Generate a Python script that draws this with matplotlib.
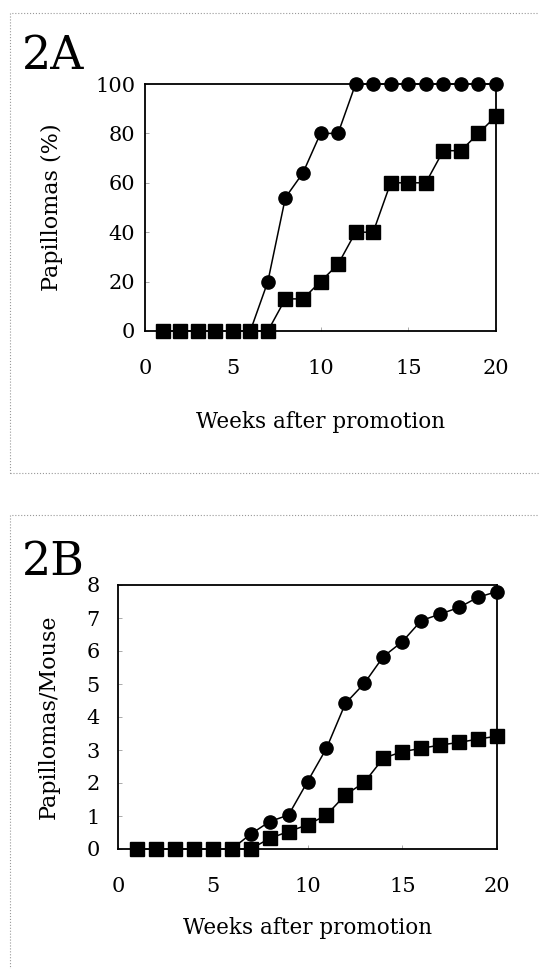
import matplotlib
matplotlib.use("Agg")
import matplotlib.pyplot as plt
from matplotlib.patches import Rectangle

weeks = list(range(1, 21))

# 2A: papillomas (%)
pct_circle = [0, 0, 0, 0, 0, 0, 20, 54, 64, 80, 80, 100, 100, 100, 100, 100, 100, 100, 100, 100]
pct_square = [0, 0, 0, 0, 0, 0, 0, 13, 13, 20, 27, 40, 40, 60, 60, 60, 73, 73, 80, 87]

# 2B: papillomas per mouse
pm_circle = [0, 0, 0, 0, 0, 0, 0.45, 0.83, 1.03, 2.04, 3.05, 4.41, 5.02, 5.83, 6.28, 6.92, 7.12, 7.32, 7.63, 7.8]
pm_square = [0, 0, 0, 0, 0, 0, 0, 0.32, 0.53, 0.73, 1.03, 1.64, 2.02, 2.75, 2.95, 3.05, 3.15, 3.23, 3.33, 3.42]

plt.rcParams['font.family'] = ['DejaVu Serif']

W, H = 539, 969
fig = plt.figure(figsize=(W / 100, H / 100), dpi=100)

# dotted panel frames
for (x0, y0, x1, y1) in [(10, 13, 545, 473), (10, 515, 545, 975)]:
    fig.patches.append(Rectangle((x0 / W, 1 - y1 / H), (x1 - x0) / W, (y1 - y0) / H,
                                 transform=fig.transFigure, fill=False,
                                 edgecolor='#999999', linewidth=0.8, linestyle=':'))


def draw(ax, circ, sq, ymax, yticks, ylabel, ypad, xlpad, ylpad):
    # circles first so the squares sit on top
    ax.plot(weeks[5:], circ[5:], color='black', lw=1.1, zorder=2, clip_on=False)
    ax.plot(weeks[6:], circ[6:], 'o', color='black', ms=9.5, zorder=3, clip_on=False)
    ax.plot(weeks, sq, color='black', lw=1.1, marker='s', ms=10.5, zorder=4, clip_on=False)
    ax.set_xlim(0, 20)
    ax.set_ylim(0, ymax)
    ax.set_xticks([0, 5, 10, 15, 20])
    ax.set_yticks(yticks)
    ax.tick_params(axis='x', direction='in', length=3, width=0.5, color='#888888',
                   labelsize=15, pad=20)
    ax.tick_params(axis='y', direction='in', length=3, width=0.5, color='#888888',
                   labelsize=15, pad=ypad)
    for s in ax.spines.values():
        s.set_linewidth(1.3)
    ax.set_xlabel('Weeks after promotion', fontsize=15.5, labelpad=xlpad)
    ax.set_ylabel(ylabel, fontsize=16, labelpad=ylpad)


axA = fig.add_axes([145 / W, 1 - 331 / H, 351 / W, 247 / H])
draw(axA, pct_circle, pct_square, 100, [0, 20, 40, 60, 80, 100], 'Papillomas (%)', 7, 24, 23)

axB = fig.add_axes([118 / W, 1 - 849 / H, 379 / W, 264 / H])
draw(axB, pm_circle, pm_square, 8, range(0, 9), 'Papillomas/Mouse', 13, 15, 19)

fig.text(22 / W, 1 - 69 / H, '2A', fontsize=33, ha='left', va='baseline')
fig.text(22 / W, 1 - 575 / H, '2B', fontsize=33, ha='left', va='baseline')

fig.savefig('out.png', dpi=100)
